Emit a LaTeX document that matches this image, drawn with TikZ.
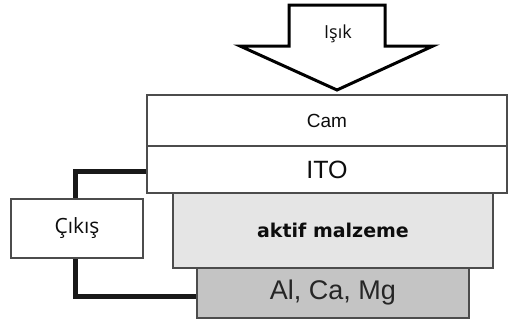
\documentclass[tikz,border=0pt]{standalone}
\usepackage{fontspec}
\setmainfont{Liberation Sans}
\newfontfamily\opensans{Open Sans}
\newfontfamily\dejavu{DejaVu Sans}
\begin{document}
\begin{tikzpicture}[x=1pt,y=-1pt,
  layer/.style={draw=black!70,line width=1.4pt,inner sep=0pt,outer sep=0pt,text=black!95},
  wire/.style={line width=5pt,draw=black!90},
  boxline/.style={draw=black!70,line width=1.4pt},
  bigarrow/.style={draw=black,line width=3pt,fill=white,line join=miter}]
\useasboundingbox (0,0) rectangle (509,322);
% arrow
\draw[bigarrow] (289,5) -- (385,5) -- (385,46) -- (433,46) -- (337,90) -- (240,46) -- (289,46) -- cycle;
\node[inner sep=0pt,text=black!95] (isik) at (338,34) {\opensans\fontsize{18}{20}\selectfont Işık};
% boxes
\node[layer,fill=white,minimum width=360pt,minimum height=51pt] (cam) at (327,120.5) {\fontsize{19}{21}\selectfont Cam};
\node[layer,fill=white,minimum width=360pt,minimum height=47pt] (ito) at (327,169.5) {\fontsize{25}{27}\selectfont ITO};
\node[layer,fill=black!10,minimum width=320pt,minimum height=74.5pt] (aktif) at (333,230.75) {\dejavu\bfseries\fontsize{19}{21}\selectfont aktif malzeme};
\node[layer,fill=black!23,text=black!85,minimum width=272pt,minimum height=50pt] (al) at (333,293) {\fontsize{27}{29}\selectfont Al, Ca, Mg};
\node[layer,fill=white,minimum width=132pt,minimum height=59pt] (cikis) at (77,228.5) {\opensans\fontsize{21}{23}\selectfont Çıkış};
% wires
\draw[wire] ([yshift=-1.5pt]ito.west) -| ([xshift=-2pt]cikis.north);
\draw[wire] ([xshift=-2pt]cikis.south) |- ([yshift=-3pt]al.west);
% redraw box borders over wire ends
\draw[boxline] (ito.north west) rectangle (ito.south east);
\draw[boxline] (al.north west) rectangle (al.south east);
\draw[boxline] (cikis.north west) rectangle (cikis.south east);
\end{tikzpicture}
\end{document}
